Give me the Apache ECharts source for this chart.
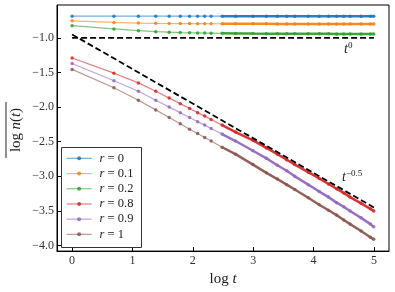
<!DOCTYPE html>
<html>
<head>
<meta charset="utf-8">
<script src="https://cdn.jsdelivr.net/npm/echarts@6/dist/echarts.min.js"></script>
<style>html,body{margin:0;padding:0;background:#fff}#c{width:395px;height:292px}</style>
</head>
<body>
<div id="c"></div>
<script>
// log t sample positions (t = 1..10, 12, 15, 20, 25, 30, 35, 40, 50, ..., 148)
const logT = [0, 0.693, 1.099, 1.386, 1.609, 1.792, 1.946, 2.079, 2.197, 2.303, 2.485, 2.708, 2.996, 3.219, 3.401, 3.555, 3.689, 3.912, 4.094, 4.248, 4.382, 4.500, 4.605, 4.787, 4.942, 4.997];
const seriesNames = ['r = 0', 'r = 0.1', 'r = 0.2', 'r = 0.8', 'r = 0.9', 'r = 1'];
const r0  = [-0.686,-0.686,-0.686,-0.686,-0.686,-0.686,-0.686,-0.686,-0.686,-0.686,-0.686,-0.686,-0.686,-0.686,-0.686,-0.686,-0.686,-0.686,-0.686,-0.686,-0.686,-0.686,-0.686,-0.686,-0.686,-0.686];
const r01 = [-0.753,-0.777,-0.786,-0.790,-0.792,-0.793,-0.794,-0.795,-0.795,-0.796,-0.796,-0.797,-0.797,-0.797,-0.798,-0.798,-0.798,-0.798,-0.798,-0.798,-0.798,-0.798,-0.798,-0.798,-0.798,-0.798];
const r02 = [-0.824,-0.871,-0.896,-0.910,-0.918,-0.923,-0.927,-0.929,-0.931,-0.932,-0.934,-0.936,-0.938,-0.939,-0.940,-0.941,-0.941,-0.942,-0.942,-0.942,-0.943,-0.943,-0.943,-0.943,-0.943,-0.943];
const r08 = [-1.29,-1.51,-1.65,-1.77,-1.87,-1.95,-2.02,-2.08,-2.13,-2.18,-2.26,-2.36,-2.48,-2.59,-2.68,-2.76,-2.83,-2.94,-3.03,-3.11,-3.18,-3.24,-3.30,-3.39,-3.47,-3.50];
const r09 = [-1.37,-1.62,-1.77,-1.90,-2.00,-2.08,-2.15,-2.21,-2.26,-2.31,-2.39,-2.49,-2.63,-2.74,-2.84,-2.92,-3.00,-3.12,-3.22,-3.30,-3.38,-3.44,-3.50,-3.60,-3.69,-3.73];
const r1  = [-1.455,-1.72,-1.90,-2.04,-2.15,-2.24,-2.32,-2.38,-2.44,-2.49,-2.58,-2.68,-2.83,-2.95,-3.04,-3.12,-3.19,-3.31,-3.41,-3.49,-3.56,-3.63,-3.69,-3.79,-3.88,-3.91];
const refX = [0, 5];
const refT0 = [-1.0, -1.0];
const refTm05 = [-0.95, -3.45];
const xTicks = [0, 1, 2, 3, 4, 5];
const yTicks = [-4.0, -3.5, -3.0, -2.5, -2.0, -1.5, -1.0];

const allY = [r0, r01, r02, r08, r09, r1];
const colors = ['#1f77b4', '#ff7f0e', '#2ca02c', '#d62728', '#9467bd', '#8c564b'];
const FF = 'Liberation Serif';
const denseStart = 10;

const series = [];
allY.forEach((ys, k) => {
  const data = logT.map((x, i) => [x, ys[i]]);
  series.push({
    type: 'line', name: seriesNames[k], data: data,
    symbol: 'circle', symbolSize: 3.5, showSymbol: true,
    lineStyle: { width: 1.2, color: colors[k], opacity: 0.6 },
    itemStyle: { color: colors[k], opacity: 0.85 },
    z: 2, animation: false
  });
  series.push({
    type: 'line', name: seriesNames[k] + ' dense', data: data.slice(denseStart),
    symbol: 'none', silent: true,
    lineStyle: { width: 2.5, color: colors[k], opacity: 0.9 },
    z: 3, animation: false
  });
});
const dashed = { width: 1.8, color: '#000', type: [6, 3] };
series.push({ type: 'line', name: 't0', data: refX.map((x, i) => [x, refT0[i]]), symbol: 'none', silent: true, lineStyle: dashed, z: 5, animation: false });
series.push({ type: 'line', name: 't-0.5', data: refX.map((x, i) => [x, refTm05[i]]), symbol: 'none', silent: true, lineStyle: dashed, z: 5, animation: false });

const fmt = v => (v < 0 ? '\u2212' : '') + Math.abs(v).toFixed(1);

const chart = echarts.init(document.getElementById('c'), null, { renderer: 'canvas' });
chart.setOption({
  animation: false,
  backgroundColor: '#fff',
  grid: { left: 57, right: 6, top: 5, bottom: 38, show: true, borderColor: '#000', borderWidth: 1 },
  xAxis: {
    type: 'value', min: -0.25, max: 5.25,
    axisLine: { show: true, onZero: false, lineStyle: { color: '#000', width: 1 } },
    axisTick: { show: true, inside: true, length: 4, customValues: xTicks, lineStyle: { color: '#000' } },
    axisLabel: { customValues: xTicks, formatter: v => String(v), fontFamily: FF, fontSize: 12, color: '#333', margin: 4 },
    splitLine: { show: false },
    name: '{n|log} {i|t}', nameLocation: 'middle', nameGap: 12,
    nameTextStyle: { fontFamily: FF, fontSize: 15, color: '#222',
      rich: { n: { fontFamily: FF, fontSize: 15, color: '#222' }, i: { fontFamily: FF, fontSize: 15, fontStyle: 'italic', color: '#222' } } }
  },
  yAxis: {
    type: 'value', min: -4.08, max: -0.525,
    axisLine: { show: true, onZero: false, lineStyle: { color: '#000', width: 1 } },
    axisTick: { show: true, inside: true, length: 4, customValues: yTicks, lineStyle: { color: '#000' } },
    axisLabel: { customValues: yTicks, formatter: fmt, fontFamily: FF, fontSize: 12, color: '#333', margin: 3 },
    splitLine: { show: false }
  },
  legend: {
    data: seriesNames, orient: 'vertical', left: 66, top: 151,
    padding: 0, itemWidth: 25, itemHeight: 5, itemGap: 0.5,
    lineStyle: { width: 1.2, opacity: 0.6 },
    formatter: name => '{i|r} = ' + name.split('= ')[1],
    textStyle: { fontFamily: FF, fontSize: 12.5, color: '#222', padding: [0, 0, 0, 3], lineHeight: 14.7,
      rich: { i: { fontFamily: FF, fontSize: 12.5, fontStyle: 'italic', color: '#222', lineHeight: 14.7 } } }
  },
  graphic: [
    { type: 'rect', shape: { x: 61.5, y: 147.5, width: 80, height: 100 }, style: { fill: '#fff', stroke: '#333', lineWidth: 1 }, z: 3, silent: true },
    { type: 'group', x: 15, y: 130, rotation: Math.PI / 2, children: [
      { type: 'text', x: 0, y: 1, style: { text: '{n|log} {i|n}{n|(}{i|t}{n|)}', textAlign: 'center', textVerticalAlign: 'middle',
        rich: { n: { fontFamily: FF, fontSize: 15, fill: '#222' }, i: { fontFamily: FF, fontSize: 15, fontStyle: 'italic', fill: '#222' } } } },
      { type: 'line', shape: { x1: -28, y1: -9, x2: 28, y2: -9 }, style: { stroke: '#222', lineWidth: 1 } }
    ] },
    { type: 'text', x: 344, y: 41, style: { text: '{i|t}{s|0}',
      rich: { i: { fontFamily: FF, fontSize: 14, fontStyle: 'italic', fill: '#222' }, s: { fontFamily: FF, fontSize: 9, fill: '#222', padding: [0, 0, 8, 0] } } } },
    { type: 'text', x: 342, y: 169, style: { text: '{i|t}{s|\u22120.5}',
      rich: { i: { fontFamily: FF, fontSize: 14, fontStyle: 'italic', fill: '#222' }, s: { fontFamily: FF, fontSize: 9, fill: '#222', padding: [0, 0, 8, 0] } } } }
  ],
  series: series
});
</script>
</body>
</html>
